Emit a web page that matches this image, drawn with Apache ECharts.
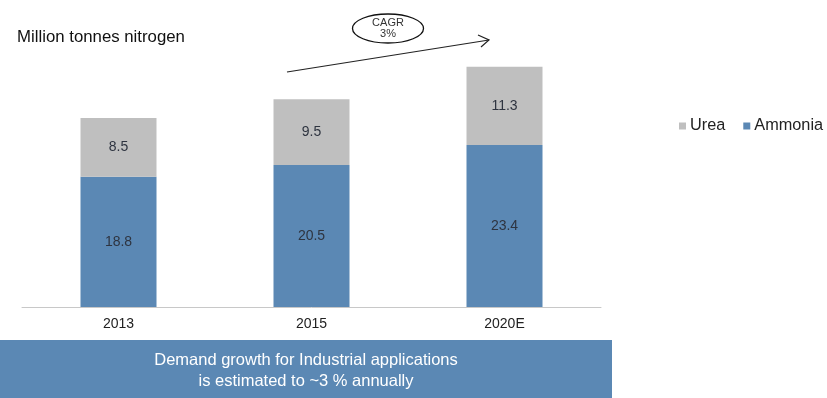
<!DOCTYPE html>
<html>
<head>
<meta charset="utf-8">
<script src="https://cdn.jsdelivr.net/npm/echarts@6/dist/echarts.min.js"></script>
<style>
  html, body { margin: 0; padding: 0; background: #ffffff; }
  #chart { width: 827px; height: 398px; }
</style>
</head>
<body>
<div id="chart"></div>
<script>
// Industrial nitrogen demand, million tonnes N
var categories = ['2013', '2015', '2020E'];
var ammonia = [18.8, 20.5, 23.4];
var urea = [8.5, 9.5, 11.3];

var BLUE = '#5b88b4';
var GREY = '#bfbfbf';
var FONT = 'Liberation Sans, Arial, sans-serif';

var chart = echarts.init(document.getElementById('chart'), null, { renderer: 'canvas' });

var labelStyle = {
  show: true,
  position: 'inside',
  color: '#2e3440',
  fontSize: 14,
  fontFamily: FONT
};

chart.setOption({
  animation: false,
  textStyle: { fontFamily: FONT },
  grid: { left: 22, right: 226, top: 30, bottom: 91, containLabel: false },
  legend: {
    data: ['Urea', 'Ammonia'],
    orient: 'horizontal',
    left: 679,
    top: 118,
    width: 148,
    padding: 0,
    itemWidth: 7,
    itemHeight: 7,
    itemGap: 18,
    icon: 'rect',
    textStyle: { fontSize: 16.3, color: '#222222', fontFamily: FONT, padding: [0, 0, 0, -1] }
  },
  xAxis: {
    type: 'category',
    data: categories,
    axisLine: { lineStyle: { color: '#c8c8c8', width: 1 } },
    axisTick: { show: false },
    axisLabel: { color: '#222222', fontSize: 14, margin: 10, fontFamily: FONT }
  },
  yAxis: {
    type: 'value',
    min: 0,
    max: 40,
    show: false
  },
  series: [
    {
      name: 'Ammonia',
      type: 'bar',
      stack: 'total',
      barWidth: 76,
      data: ammonia,
      itemStyle: { color: BLUE },
      label: labelStyle
    },
    {
      name: 'Urea',
      type: 'bar',
      stack: 'total',
      barWidth: 76,
      data: urea,
      itemStyle: { color: GREY },
      label: labelStyle
    }
  ],
  graphic: [
    {
      type: 'text',
      left: 17,
      top: 29,
      style: { text: 'Million tonnes nitrogen', fill: '#111111', fontSize: 16.8, fontFamily: FONT }
    },
    {
      type: 'ellipse',
      shape: { cx: 388, cy: 28.5, rx: 35.5, ry: 14.5 },
      style: { fill: '#ffffff', stroke: '#111111', lineWidth: 1.3 }
    },
    {
      type: 'text',
      x: 388,
      y: 28,
      style: {
        text: 'CAGR\n3%',
        fill: '#333333',
        fontSize: 11,
        lineHeight: 11,
        fontFamily: FONT,
        align: 'center',
        verticalAlign: 'middle'
      }
    },
    {
      type: 'line',
      shape: { x1: 287, y1: 72, x2: 489, y2: 40 },
      style: { stroke: '#222222', lineWidth: 1.2 }
    },
    {
      type: 'polyline',
      shape: { points: [[478, 35], [489, 40], [481, 47]] },
      style: { stroke: '#222222', lineWidth: 1.2, fill: null }
    },
    {
      type: 'rect',
      shape: { x: 0, y: 340, width: 612, height: 58 },
      style: { fill: BLUE }
    },
    {
      type: 'text',
      x: 306,
      y: 371,
      style: {
        text: 'Demand growth for Industrial applications\nis estimated to ~3 % annually',
        fill: '#ffffff',
        fontSize: 16.5,
        lineHeight: 21,
        fontFamily: FONT,
        align: 'center',
        verticalAlign: 'middle'
      }
    }
  ]
});
</script>
</body>
</html>
